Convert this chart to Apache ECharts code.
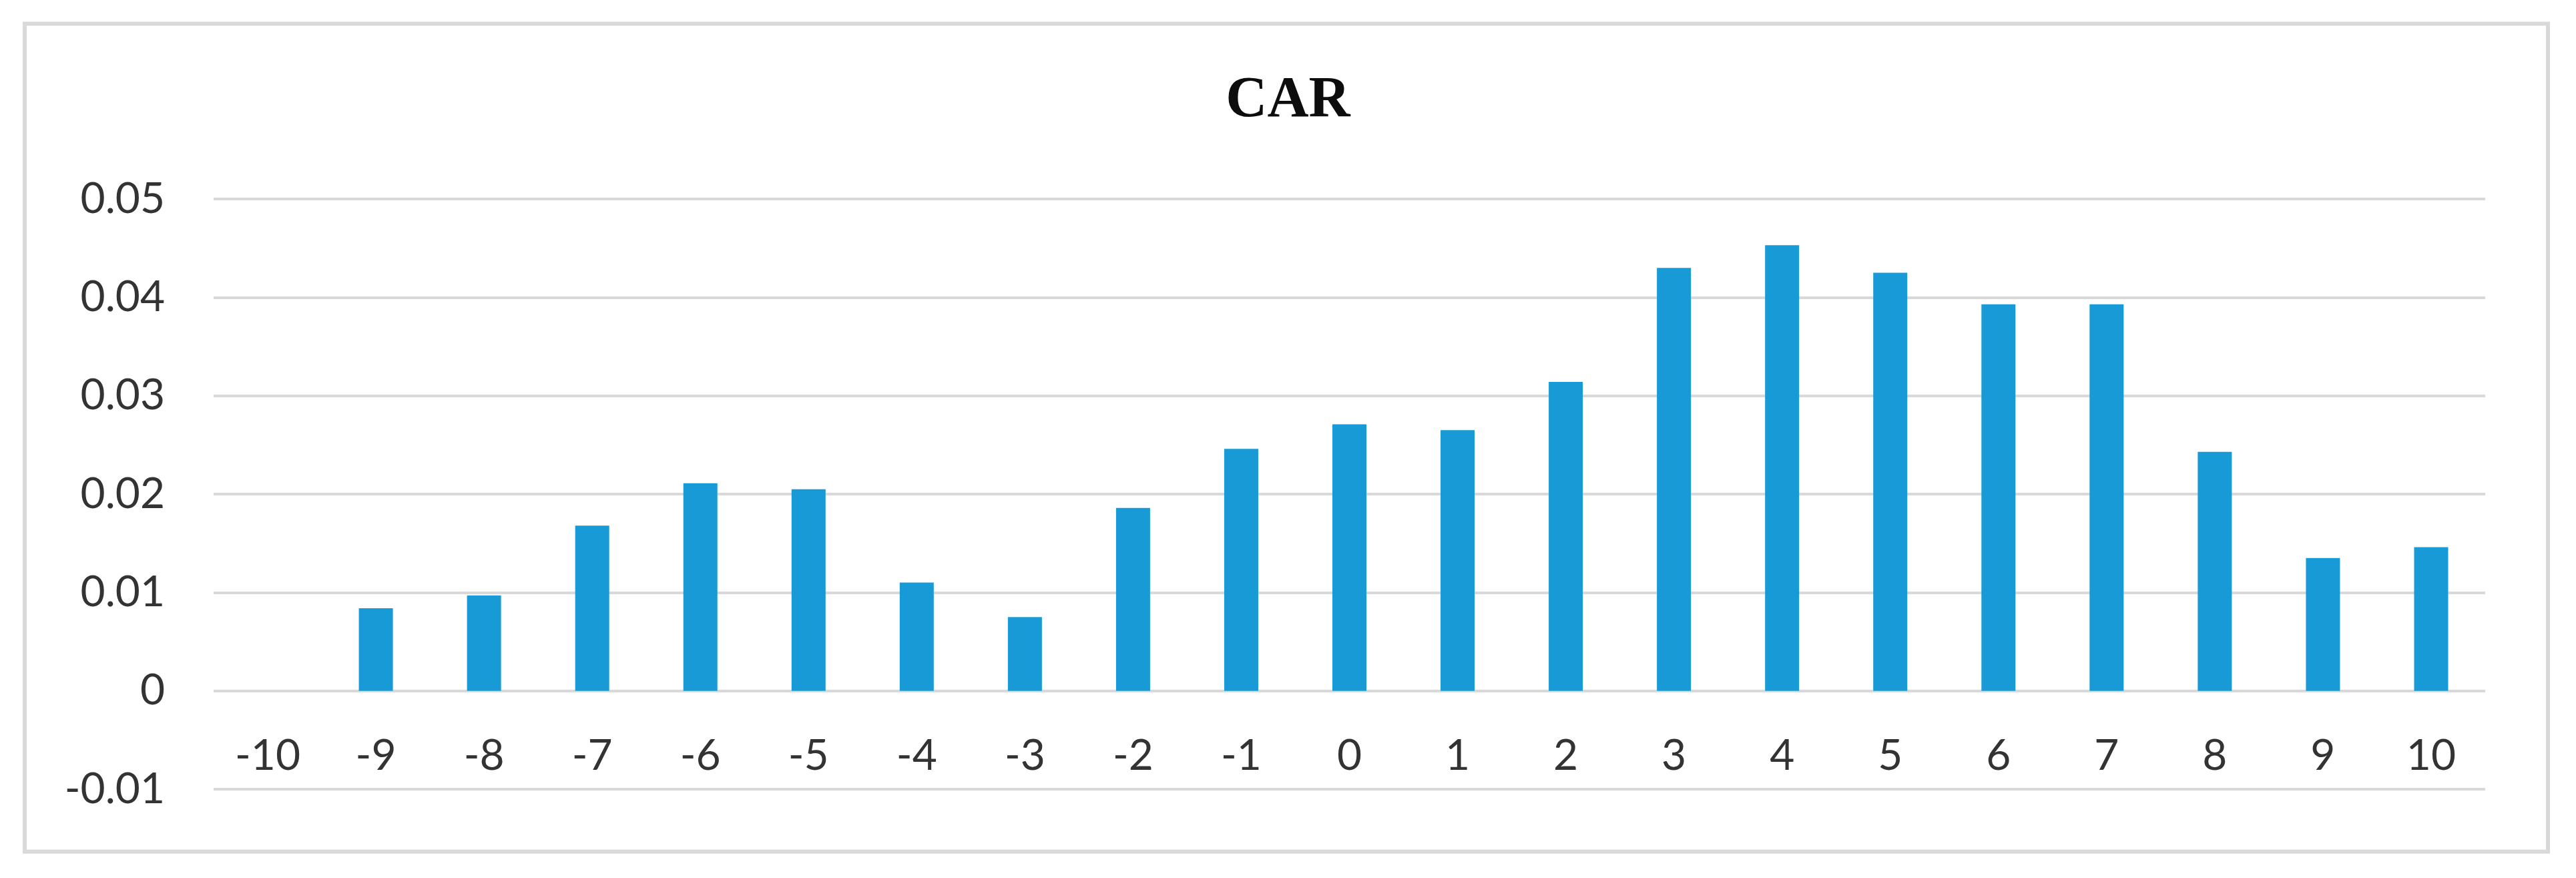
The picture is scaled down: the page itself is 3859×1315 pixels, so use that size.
<!DOCTYPE html>
<html>
<head>
<meta charset="utf-8">
<title>CAR</title>
<script src="https://cdn.jsdelivr.net/npm/echarts@6/dist/echarts.min.js"></script>
<style>
  html, body { margin: 0; padding: 0; background: #fff; }
  #chart { width: 3859px; height: 1315px; }
</style>
</head>
<body>
<div id="chart"></div>
<script>
// 事件窗口 -10..10 的累计超额收益
const days = ['-10', '-9', '-8', '-7', '-6', '-5', '-4', '-3', '-2', '-1', '0', '1', '2', '3', '4', '5', '6', '7', '8', '9', '10'];
const carValues = [0, 0.0084, 0.0097, 0.0168, 0.0211, 0.0205, 0.0110, 0.0075, 0.0186, 0.0246, 0.0271, 0.0265, 0.0314, 0.0430, 0.0453, 0.0425, 0.0393, 0.0393, 0.0243, 0.0135, 0.0146];
const yMin = -0.01;
const yMax = 0.05;
const yStep = 0.01;

const gridTop = 298;
const gridBottom = 133;
const plotHeight = 1315 - gridTop - gridBottom;
// 横轴标签放在 0 线下方（Excel 风格），用 offset 把轴上移到 0 的位置
const zeroOffset = plotHeight * (0 - yMin) / (yMax - yMin);

const chart = echarts.init(document.getElementById('chart'), null, { renderer: 'canvas' });
const labelFont = 'Lato, "Liberation Sans", sans-serif';

chart.setOption({
  backgroundColor: '#fff',
  animation: false,
  title: {
    text: 'CAR',
    left: 'center',
    top: 104,
    textStyle: { fontFamily: '"Liberation Serif", "Times New Roman", serif', fontWeight: 'bold', fontSize: 86, lineHeight: 86, color: '#0d0d0d' }
  },
  graphic: [{
    type: 'rect',
    shape: { x: 37, y: 35.5, width: 3780, height: 1240 },
    style: { fill: 'none', stroke: '#d9d9d9', lineWidth: 6 },
    silent: true
  }],
  grid: { left: 320, right: 136, top: gridTop, bottom: gridBottom },
  xAxis: {
    type: 'category',
    data: days,
    offset: -zeroOffset,
    axisLine: { show: false, onZero: false },
    axisTick: { show: false },
    axisLabel: { color: '#333', fontFamily: labelFont, fontSize: 64, lineHeight: 64, margin: 66, interval: 0 }
  },
  yAxis: {
    type: 'value',
    min: yMin,
    max: yMax,
    interval: yStep,
    axisLine: { show: false },
    axisTick: { show: false },
    axisLabel: { color: '#333', fontFamily: labelFont, fontSize: 64, margin: 73 },
    splitLine: { lineStyle: { color: '#d9d9d9', width: 4 } }
  },
  series: [{
    name: 'CAR',
    type: 'bar',
    data: carValues,
    barWidth: 51,
    itemStyle: { color: '#179ad6' }
  }]
});
</script>
</body>
</html>
